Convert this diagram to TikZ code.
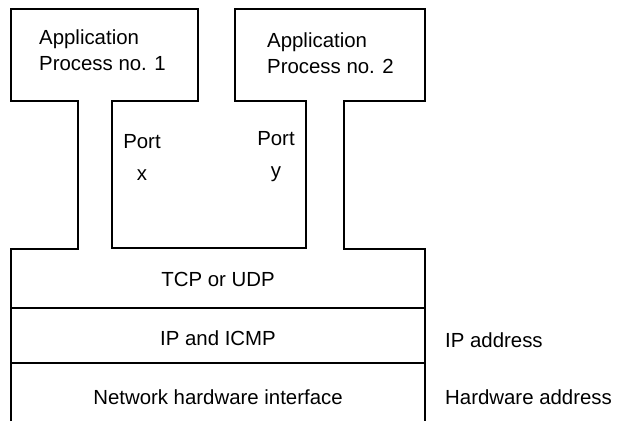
\documentclass[tikz,border=0pt]{standalone}
\usepackage{fontspec}
\setmainfont{Liberation Sans}
\usetikzlibrary{positioning}

\tikzset{
	wall/.style={line width=1.6pt, line join=miter},
	lbl/.style={inner sep=0pt, font=\fontsize{20.4}{26}\selectfont},
	portlbl/.style={lbl, align=center, font=\fontsize{20.4}{32}\selectfont},
}

\begin{document}
\begin{tikzpicture}[x=1pt,y=-1pt]

	\useasboundingbox (0,0) rectangle (619,421);

	\def\xl{11}
	\def\xr{425}
	\def\ytop{9}
	\def\yapp{101}
	\def\ytcp{249}
	\def\ybot{421}

	% outline of both processes and the stack
	\draw[wall] (\xl,\ybot) -- (\xl,\ytcp) -- (78,\ytcp) -- (78,\yapp) -- (\xl,\yapp)
		-- (\xl,\ytop) -- (198,\ytop) -- (198,\yapp) -- (112,\yapp) -- (112,248)
		-- (306,248) -- (306,\yapp) -- (235,\yapp) -- (235,\ytop) -- (\xr,\ytop)
		-- (\xr,\yapp) -- (344,\yapp) -- (344,\ytcp) -- (\xr,\ytcp) -- (\xr,\ybot);

	\foreach \y in {308, 363}
		\draw[wall] (\xl,\y) -- (\xr,\y);

	\node[lbl, anchor=west, align=left] (app1) at (39,50) {Application\\Process no. 1};
	\node[lbl, anchor=west, align=left] (app2) at (267,53) {Application\\Process no. 2};

	\node[portlbl] (portx) at (142,157) {Port\\x};
	\node[portlbl] (porty) at (276,157) {Port\\y};

	\node[lbl] (tcp) at (218,279) {TCP or UDP};
	\node[lbl] (ip) at (218,338) {IP and ICMP};
	\node[lbl] (net) at (218,397) {Network hardware interface};

	\node[lbl, anchor=west] (ipaddr) at (445,340) {IP address};
	\node[lbl, anchor=west] (hwaddr) at (445,397) {Hardware address};

\end{tikzpicture}
\end{document}
